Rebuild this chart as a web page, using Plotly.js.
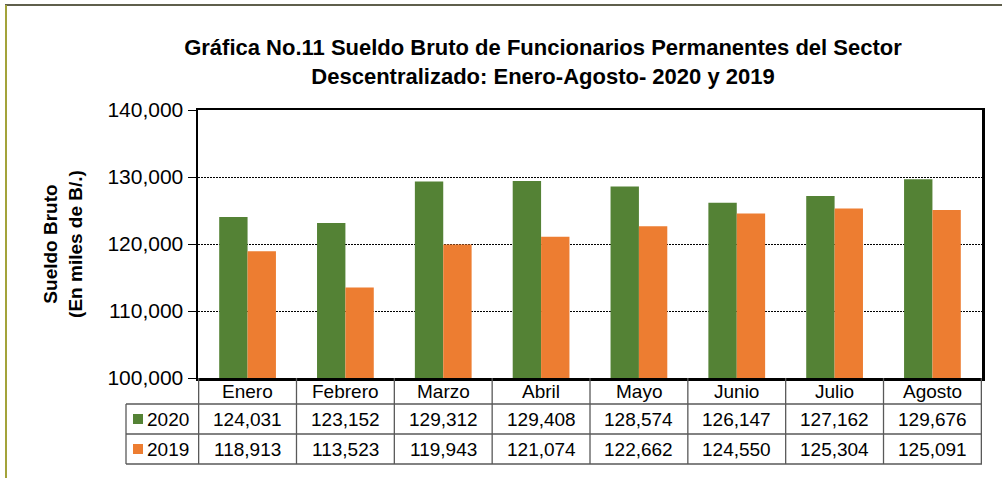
<!DOCTYPE html>
<html>
<head>
<meta charset="utf-8">
<script src="https://cdn.plot.ly/plotly-3.0.1.min.js"></script>
<style>html,body{margin:0;padding:0;background:#fff;}#chart{width:1002px;height:478px;}</style>
</head>
<body>
<div id="chart"></div>
<script>
const months = ['Enero','Febrero','Marzo','Abril','Mayo','Junio','Julio','Agosto'];
const series2020 = [124031,123152,129312,129408,128574,126147,127162,129676];
const series2019 = [118913,113523,119943,121074,122662,124550,125304,125091];
const seriesNames = ['2020','2019'];
const yTicks = [100000,110000,120000,130000,140000];

const FONT = 'Liberation Sans, Arial, sans-serif';
const GREEN = '#548235';
const ORANGE = '#ED7D31';
const W = 1002, H = 478;
const mL = 198, mR = 20, mT = 110, mB = 100;
const pw = W - mL - mR, ph = H - mT - mB;
const px = x => (x - mL) / pw;
const py = y => (H - mB - y) / ph;

const fmt = v => v.toLocaleString('en-US');

const traces = [
  {type:'bar', name:seriesNames[0], x:months, y:series2020, marker:{color:GREEN}, hoverinfo:'skip'},
  {type:'bar', name:seriesNames[1], x:months, y:series2019, marker:{color:ORANGE}, hoverinfo:'skip'}
];

const rowHeader = 391, row1 = 419, row2 = 449;
const lineColor = '#595959';
const shapes = [];
[404, 434, 464].forEach(y => shapes.push({type:'line', xref:'paper', yref:'paper', x0:px(126), x1:px(982), y0:py(y), y1:py(y), line:{color:lineColor, width:1.3}}));
for (let k = 0; k <= months.length; k++) {
  shapes.push({type:'line', xref:'x', yref:'paper', x0:k-0.5, x1:k-0.5, y0:py(378), y1:py(464), line:{color:lineColor, width:1.3}});
}
shapes.push({type:'line', xref:'paper', yref:'paper', x0:px(126), x1:px(126), y0:py(404), y1:py(464), line:{color:lineColor, width:1.3}});
[[row1, GREEN],[row2, ORANGE]].forEach(([y,c]) => shapes.push({type:'rect', xref:'paper', yref:'paper', x0:px(133), x1:px(143), y0:py(y-5), y1:py(y+5), fillcolor:c, line:{width:0}}));
shapes.push({type:'line', xref:'paper', yref:'paper', x0:px(5), x1:px(1002), y0:py(5), y1:py(5), line:{color:'#2a2a10', width:1.5}});
shapes.push({type:'line', xref:'paper', yref:'paper', x0:px(6), x1:px(6), y0:py(5), y1:py(478), line:{color:'#a3a33a', width:2}});

const annotations = [];
months.forEach((m, i) => {
  annotations.push({xref:'x', yref:'paper', x:m, y:py(rowHeader), text:m, showarrow:false, font:{family:FONT, size:19, color:'#000'}, xanchor:'center', yanchor:'middle'});
  annotations.push({xref:'x', yref:'paper', x:m, y:py(row1), text:fmt(series2020[i]), showarrow:false, font:{family:FONT, size:19, color:'#000'}, xanchor:'center', yanchor:'middle'});
  annotations.push({xref:'x', yref:'paper', x:m, y:py(row2), text:fmt(series2019[i]), showarrow:false, font:{family:FONT, size:19, color:'#000'}, xanchor:'center', yanchor:'middle'});
});
[[row1, seriesNames[0]],[row2, seriesNames[1]]].forEach(([y,t]) => annotations.push({xref:'paper', yref:'paper', x:px(145), y:py(y), text:t, showarrow:false, font:{family:FONT, size:19, color:'#000'}, xanchor:'left', yanchor:'middle'}));

const layout = {
  width: W, height: H,
  margin: {l:mL, r:mR, t:mT, b:mB, pad:0},
  paper_bgcolor:'#fff', plot_bgcolor:'#fff',
  showlegend:false,
  barmode:'group', bargap:0.42, bargroupgap:0,
  title: {
    text:'<b>Gráfica No.11 Sueldo Bruto de Funcionarios Permanentes del Sector<br>Descentralizado: Enero-Agosto- 2020 y 2019</b>',
    font:{family:FONT, size:22, color:'#000'},
    x:543/W, xref:'container', xanchor:'center',
    y:1-55/H, yref:'container', yanchor:'middle'
  },
  xaxis: {
    type:'category', showticklabels:false, ticks:'',
    showline:true, mirror:true, linecolor:'#000', linewidth:2.5,
    showgrid:false, fixedrange:true
  },
  yaxis: {
    range:[100000,140000], tickvals:yTicks, tickformat:',d',
    tickfont:{family:FONT, size:21, color:'#000'},
    ticks:'outside', ticklen:8, tickcolor:'#000', tickwidth:1,
    showline:true, mirror:true, linecolor:'#000', linewidth:2.5,
    showgrid:true, gridcolor:'#000', gridwidth:1, griddash:'2px,1px',
    zeroline:false, fixedrange:true,
    title:{text:'<b>Sueldo Bruto<br>(En miles de B/.)</b>', font:{family:FONT, size:19, color:'#000'}, standoff:20}
  },
  shapes: shapes,
  annotations: annotations
};

Plotly.newPlot('chart', traces, layout, {displayModeBar:false, staticPlot:true});
</script>
</body>
</html>
